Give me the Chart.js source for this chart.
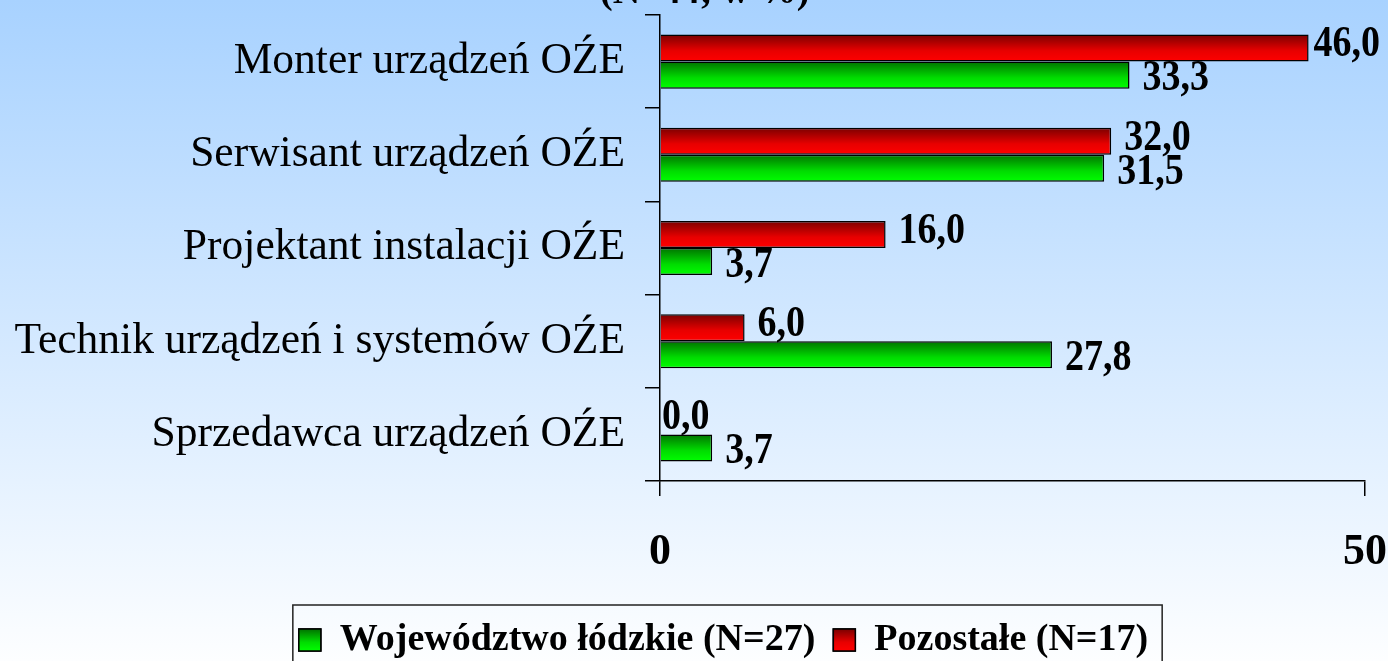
<!DOCTYPE html>
<html>
<head>
<meta charset="utf-8">
<script src="https://cdn.jsdelivr.net/npm/chart.js@4.4.1/dist/chart.umd.min.js"></script>
<style>
  html, body { margin: 0; padding: 0; background: #fff; }
  #wrap { width: 1388px; height: 661px; }
</style>
</head>
<body>
<div id="wrap"><canvas id="chart" width="1388" height="661"></canvas></div>
<script>
// dane z wykresu
const categories = [
    'Monter urządzeń OŹE',
    'Serwisant urządzeń OŹE',
    'Projektant instalacji OŹE',
    'Technik urządzeń i systemów OŹE',
    'Sprzedawca urządzeń OŹE'
];
const lodzkieValues = [33.3, 31.5, 3.7, 27.8, 3.7];
const pozostaleValues = [46.0, 32.0, 16.0, 6.0, 0.0];
const seriesNames = ['Województwo łódzkie (N=27)', 'Pozostałe (N=17)'];
const xTicks = [0, 50];
const titleText = '(N=44; w %)';

const SERIF = '"Liberation Serif", "Times New Roman", serif';
const CAT_PCT = 0.58;
const PLOT_LEFT = 660;
const PLOT_BOTTOM = 481;
const PAD_BOTTOM = -8;
const LEGEND_SHIFT = 41;

const redStops = ['#7a0000', '#e80000', '#ff0000'];
const greenStops = ['#007200', '#00dc00', '#00ff00'];

function makeGradient(ctx, top, h, stops) {
    const g = ctx.createLinearGradient(0, top, 0, top + h);
    g.addColorStop(0, stops[0]);
    g.addColorStop(0.6, stops[1]);
    g.addColorStop(1, stops[2]);
    return g;
}

// gradient dla kazdego slupka liczony ze skali Y
function barFill(stops) {
    return function(context) {
        const chart = context.chart;
        const y = chart.scales.y;
        if (context.type !== 'data' || !y) return stops[1];
        const p0 = y.getPixelForValue(0);
        const p1 = y.getPixelForValue(1);
        const c = y.getPixelForValue(context.dataIndex);
        if (!isFinite(p0) || !isFinite(p1) || !isFinite(c)) return stops[1];
        const thick = (p1 - p0) * CAT_PCT / 2;
        const top = context.datasetIndex === 0 ? c - thick : c;
        return makeGradient(chart.ctx, top, thick, stops);
    };
}

const backgroundPlugin = {
    id: 'bg',
    afterLayout(chart) {
        // legenda w oryginale jest troche przesunieta w prawo
        chart.legend.left += LEGEND_SHIFT;
        chart.legend.right += LEGEND_SHIFT;
    },
    beforeDraw(chart) {
        const ctx = chart.ctx;
        const g = ctx.createLinearGradient(0, 0, 0, chart.height);
        g.addColorStop(0, '#a8d2ff');
        g.addColorStop(1, '#fdfeff');
        ctx.save();
        ctx.fillStyle = g;
        ctx.fillRect(0, 0, chart.width, chart.height);
        ctx.restore();
    }
};

// etykiety wartosci (lekko rozciagniete w pionie jak w oryginale)
const valueLabels = {
    id: 'valueLabels',
    afterDatasetsDraw(chart) {
        const ctx = chart.ctx;
        ctx.save();
        ctx.font = 'bold 38px ' + SERIF;
        ctx.fillStyle = '#000';
        ctx.textBaseline = 'middle';
        chart.data.datasets.forEach((ds, di) => {
            const meta = chart.getDatasetMeta(di);
            meta.data.forEach((bar, i) => {
                const txt = ds.data[i].toFixed(1).replace('.', ',');
                const w = ctx.measureText(txt).width;
                let x = bar.x + (ds.data[i] === 0 ? 2 : 13);
                x = Math.min(x, chart.width - w - 8);
                const yy = bar.y + (di === 0 ? -3 : 4);
                ctx.save();
                ctx.translate(x, yy);
                ctx.scale(1, 1.15);
                ctx.fillText(txt, 0, 0);
                ctx.restore();
            });
        });
        ctx.restore();
    }
};

// ramka legendy, kwadraty z gradientem i tytul
const extras = {
    id: 'extras',
    afterDraw(chart) {
        const ctx = chart.ctx;
        const legend = chart.legend;
        const boxes = legend.legendHitBoxes;
        const lo = legend.options.labels;
        ctx.save();
        if (boxes && boxes.length) {
            const fontSize = lo.font.size;
            let left = Infinity, right = -Infinity, top = Infinity;
            boxes.forEach((hb, i) => {
                left = Math.min(left, hb.left);
                right = Math.max(right, hb.left + hb.width);
                top = Math.min(top, hb.top);
                const item = legend.legendItems[i];
                const ds = chart.data.datasets[item.datasetIndex];
                const yTop = hb.top + Math.max((fontSize - lo.boxHeight) / 2, 0);
                ctx.fillStyle = makeGradient(ctx, yTop, lo.boxHeight, ds.stops);
                ctx.fillRect(hb.left, yTop, lo.boxWidth, lo.boxHeight);
                ctx.lineWidth = 1.5;
                ctx.strokeStyle = '#000';
                ctx.strokeRect(hb.left, yTop, lo.boxWidth, lo.boxHeight);
            });
            ctx.lineWidth = 1.5;
            ctx.strokeStyle = '#222';
            ctx.strokeRect(left - 6, top - 16, right - left + 20, chart.height);
        }
        ctx.font = 'bold 38px ' + SERIF;
        ctx.fillStyle = '#000';
        ctx.textBaseline = 'alphabetic';
        ctx.fillText(titleText, 600, 3);
        ctx.restore();
    }
};

new Chart(document.getElementById('chart'), {
    type: 'bar',
    data: {
        labels: categories,
        datasets: [{
            label: seriesNames[1],
            data: pozostaleValues,
            stops: redStops,
            backgroundColor: barFill(redStops),
            borderColor: '#000',
            borderWidth: 1.5
        }, {
            label: seriesNames[0],
            data: lodzkieValues,
            stops: greenStops,
            backgroundColor: barFill(greenStops),
            borderColor: '#000',
            borderWidth: 1.5
        }]
    },
    options: {
        indexAxis: 'y',
        responsive: false,
        animation: false,
        devicePixelRatio: 1,
        datasets: {
            bar: {
                categoryPercentage: CAT_PCT,
                barPercentage: 1
            }
        },
        layout: {
            padding: { top: 15, right: 23, left: 0, bottom: PAD_BOTTOM }
        },
        plugins: {
            legend: {
                position: 'bottom',
                labels: {
                    color: '#000',
                    font: { family: SERIF, size: 38, weight: 'bold' },
                    boxWidth: 22,
                    boxHeight: 22,
                    padding: 18,
                    sort: (a, b) => b.datasetIndex - a.datasetIndex
                }
            },
            tooltip: { enabled: false }
        },
        scales: {
            y: {
                grid: {
                    drawOnChartArea: false,
                    tickLength: 15,
                    color: '#000',
                    lineWidth: 1.5
                },
                border: { color: '#000', width: 1.5 },
                ticks: {
                    color: '#000',
                    padding: 20,
                    font: { family: SERIF, size: 43.5 }
                },
                afterFit(scale) {
                    scale.width = PLOT_LEFT;
                    scale.paddingTop = 0;
                    scale.paddingBottom = 0;
                }
            },
            x: {
                min: xTicks[0],
                max: xTicks[xTicks.length - 1],
                afterBuildTicks(scale) {
                    scale.ticks = xTicks.map(v => ({ value: v }));
                },
                grid: {
                    drawOnChartArea: false,
                    tickLength: 15,
                    color: '#000',
                    lineWidth: 1.5
                },
                border: { color: '#000', width: 1.5 },
                ticks: {
                    color: '#000',
                    padding: 30,
                    maxRotation: 0,
                    font: { family: SERIF, size: 44, weight: 'bold' }
                },
                afterFit(scale) {
                    const chart = scale.chart;
                    scale.height = chart.height - PAD_BOTTOM - PLOT_BOTTOM - chart.legend.height;
                    scale.paddingLeft = 0;
                    scale.paddingRight = 0;
                }
            }
        }
    },
    plugins: [backgroundPlugin, valueLabels, extras]
});
</script>
</body>
</html>
